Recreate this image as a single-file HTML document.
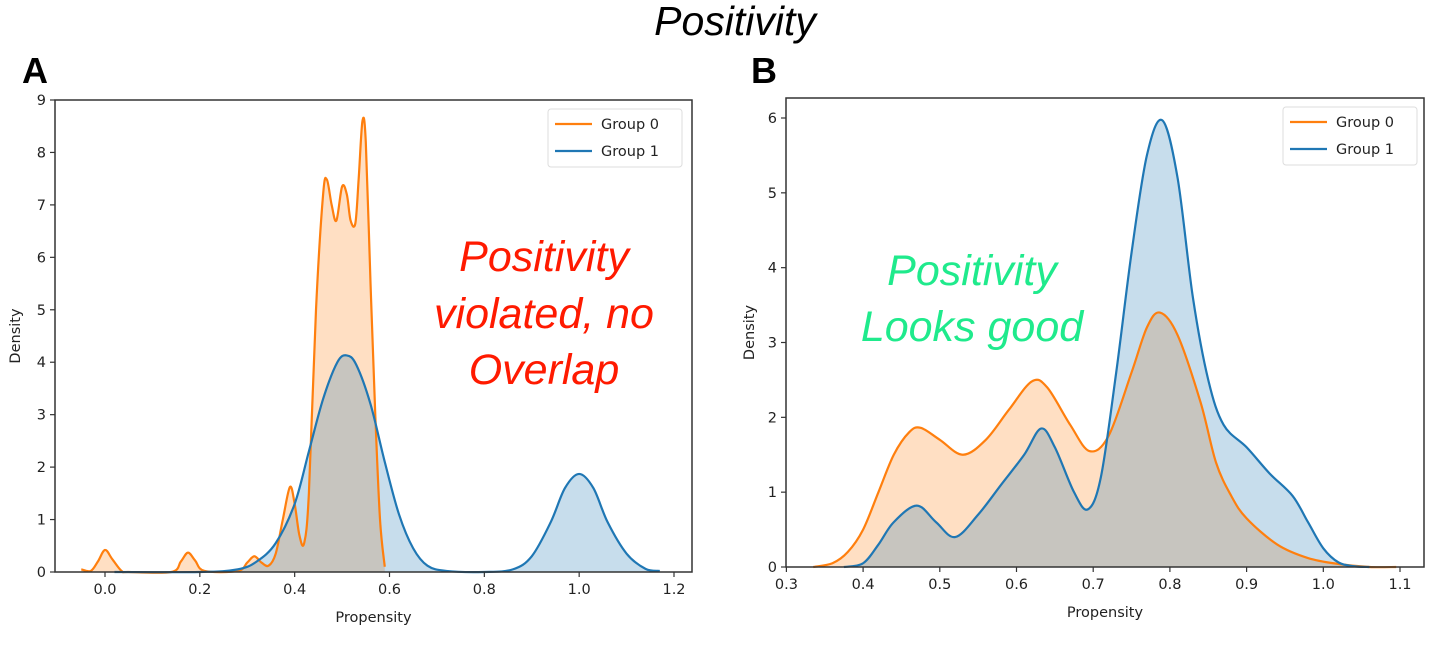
<!DOCTYPE html>
<html><head><meta charset="utf-8"><style>
html,body{margin:0;padding:0;background:#fff;}
svg{display:block;font-family:"DejaVu Sans","Liberation Sans",sans-serif;}
</style></head><body>
<svg id="svg" width="1456" height="654" viewBox="0 0 1456 654" xmlns="http://www.w3.org/2000/svg">
<text x="735" y="35" text-anchor="middle" font-family="Liberation Sans, sans-serif" font-style="italic" font-size="41" fill="#000">Positivity</text>
<text x="22" y="83" font-family="Liberation Sans, sans-serif" font-weight="bold" font-size="36" fill="#000">A</text>
<text x="751" y="83" font-family="Liberation Sans, sans-serif" font-weight="bold" font-size="36" fill="#000">B</text>
<g id="chartA"></g>
<g id="chartB"></g>
<g font-family="Liberation Sans, sans-serif" font-style="italic" font-size="43" fill="#ff1a00" text-anchor="middle">
<text x="544" y="271">Positivity</text><text x="544" y="328">violated, no</text><text x="544" y="384">Overlap</text></g>
<g font-family="Liberation Sans, sans-serif" font-style="italic" font-size="43" fill="#1fea8c" text-anchor="middle">
<text x="972" y="285">Positivity</text><text x="972" y="341">Looks good</text></g>
</svg>
<script>
// Panel A data
const aG0x=[-0.05,-0.03,-0.015,0,0.015,0.035,0.05,0.14,0.16,0.175,0.19,0.21,0.28,0.3,0.315,0.33,0.345,0.36,0.375,0.39,0.4,0.41,0.42,0.43,0.445,0.46,0.468,0.478,0.488,0.5,0.51,0.518,0.528,0.535,0.543,0.55,0.56,0.57,0.58,0.59];
const aG0y=[0.05,0.02,0.2,0.42,0.25,0.02,0,0,0.2,0.37,0.22,0.02,0.02,0.18,0.3,0.18,0.12,0.35,1.0,1.62,1.3,0.7,0.55,1.5,5.0,7.2,7.48,7.0,6.7,7.35,7.2,6.7,6.65,7.5,8.6,8.2,5.5,3.0,1.0,0.1];
const aG1x=[0.02,0.2,0.28,0.32,0.36,0.4,0.43,0.46,0.49,0.51,0.53,0.56,0.59,0.62,0.65,0.68,0.72,0.8,0.86,0.9,0.94,0.97,1.0,1.03,1.06,1.1,1.14,1.17];
const aG1y=[0,0,0.05,0.2,0.55,1.3,2.3,3.3,4.0,4.13,3.95,3.2,2.1,1.1,0.45,0.12,0.02,0,0.05,0.3,0.95,1.6,1.87,1.6,0.95,0.35,0.06,0.02];
const aXTicks=["0.0","0.2","0.4","0.6","0.8","1.0","1.2"];
const aYTicks=[0,1,2,3,4,5,6,7,8,9];
// Panel B data
const bG0x=[0.335,0.36,0.38,0.4,0.42,0.44,0.46,0.475,0.5,0.53,0.56,0.59,0.62,0.64,0.67,0.695,0.72,0.75,0.77,0.787,0.81,0.84,0.86,0.88,0.9,0.94,0.98,1.02,1.06,1.095];
const bG0y=[0,0.05,0.2,0.5,1.0,1.5,1.8,1.86,1.7,1.5,1.7,2.1,2.48,2.4,1.9,1.55,1.75,2.6,3.2,3.4,3.1,2.2,1.4,0.95,0.65,0.3,0.12,0.04,0,0];
const bG1x=[0.375,0.4,0.42,0.44,0.47,0.495,0.52,0.55,0.58,0.61,0.632,0.65,0.675,0.693,0.71,0.73,0.75,0.77,0.79,0.81,0.83,0.85,0.87,0.9,0.93,0.96,0.98,1.0,1.02,1.04,1.06];
const bG1y=[0,0.05,0.3,0.6,0.82,0.6,0.4,0.7,1.1,1.5,1.85,1.6,1.0,0.77,1.2,2.6,4.2,5.5,5.97,5.2,3.6,2.5,1.9,1.6,1.25,0.95,0.6,0.25,0.06,0.01,0];
const bXTicks=["0.3","0.4","0.5","0.6","0.7","0.8","0.9","1.0","1.1"];
const bYTicks=[0,1,2,3,4,5,6];
const legendLabels=["Group 0","Group 1"];

const NS="http://www.w3.org/2000/svg";
function mk(parent,tag,attrs,text){const e=document.createElementNS(NS,tag);for(const k in attrs)e.setAttribute(k,attrs[k]);if(text!==undefined)e.textContent=text;parent.appendChild(e);return e;}
function smooth(pts){let d="M"+pts[0][0]+","+pts[0][1];for(let i=0;i<pts.length-1;i++){const p0=pts[Math.max(0,i-1)],p1=pts[i],p2=pts[i+1],p3=pts[Math.min(pts.length-1,i+2)];const c1=[p1[0]+(p2[0]-p0[0])/6,p1[1]+(p2[1]-p0[1])/6],c2=[p2[0]-(p3[0]-p1[0])/6,p2[1]-(p3[1]-p1[1])/6];d+=" C"+c1[0]+","+c1[1]+" "+c2[0]+","+c2[1]+" "+p2[0]+","+p2[1];}return d;}
function chart(g,cfg){
  const sx=v=>cfg.x0px+(v-cfg.x0)*(cfg.x1px-cfg.x0px)/(cfg.x1-cfg.x0);
  const sy=v=>cfg.y0px+(v-cfg.y0)*(cfg.y1px-cfg.y0px)/(cfg.y1-cfg.y0);
  const series=[[cfg.g0x,cfg.g0y,"#ff7f0e"],[cfg.g1x,cfg.g1y,"#1f77b4"]];
  series.forEach((s,i)=>{
    const pts=s[0].map((x,j)=>[sx(x),Math.min(sy(s[1][j]),sy(0))]);
    const line=smooth(pts);
    const f=mk(g,"path",{d:line+" L"+pts[pts.length-1][0]+","+sy(0)+" L"+pts[0][0]+","+sy(0)+" Z",fill:s[2],"fill-opacity":"0.25",stroke:"none"});
    
    
  });
  series.forEach((s,i)=>{
    const pts=s[0].map((x,j)=>[sx(x),Math.min(sy(s[1][j]),sy(0))]);
    const l=mk(g,"path",{d:smooth(pts),fill:"none",stroke:s[2],"stroke-width":"2.2"});
    
    
  });
  const box=mk(g,"rect",{x:cfg.L,y:cfg.T,width:cfg.R-cfg.L,height:cfg.B-cfg.T,fill:"none",stroke:"#333","stroke-width":"1.5"});
  
  
  cfg.xt.forEach(t=>{const x=sx(parseFloat(t));
    mk(g,"line",{x1:x,x2:x,y1:cfg.B,y2:cfg.B+5,stroke:"#333","stroke-width":"1.2"});
    const tx=mk(g,"text",{x:x,y:cfg.B+22,"text-anchor":"middle","font-size":"14.5",fill:"#222"},t);
    
    
  });
  cfg.yt.forEach(t=>{const y=sy(t);
    mk(g,"line",{x1:cfg.L-5,x2:cfg.L,y1:y,y2:y,stroke:"#333","stroke-width":"1.2"});
    const ty=mk(g,"text",{x:cfg.L-9,y:y+5,"text-anchor":"end","font-size":"14.5",fill:"#222"},String(t));
    
    
  });
  const xl=mk(g,"text",{x:(cfg.L+cfg.R)/2,y:cfg.B+50,"text-anchor":"middle","font-size":"14.5",fill:"#222"},"Propensity");
  
  
  const yl=mk(g,"text",{x:0,y:0,transform:"translate("+cfg.ylx+","+(cfg.T+cfg.B)/2+") rotate(-90)","text-anchor":"middle","font-size":"14.5",fill:"#222"},"Density");
  
  
  const lg=mk(g,"g",{});
  
  
  mk(lg,"rect",{x:cfg.lx,y:cfg.ly,width:134,height:58,rx:3,fill:"#fff","fill-opacity":"0.85",stroke:"#ddd"});
  legendLabels.forEach((lab,i)=>{
    const e=mk(lg,"g",{});
    
    
    const y=cfg.ly+15+i*27;
    mk(e,"line",{x1:cfg.lx+7,x2:cfg.lx+44,y1:y,y2:y,stroke:series[i][2],"stroke-width":"2.2"});
    mk(e,"text",{x:cfg.lx+53,y:y+5,"font-size":"14.5",fill:"#222"},lab);
  });
}
chart(document.getElementById("chartA"),{g0x:aG0x,g0y:aG0y,g1x:aG1x,g1y:aG1y,xt:aXTicks,yt:aYTicks,
  x0:0,x1:1.2,x0px:105,x1px:674,y0:0,y1:9,y0px:572,y1px:100,L:55,R:692,T:100,B:572,ylx:20,lx:548,ly:109});
chart(document.getElementById("chartB"),{g0x:bG0x,g0y:bG0y,g1x:bG1x,g1y:bG1y,xt:bXTicks,yt:bYTicks,
  x0:0.3,x1:1.1,x0px:786.4,x1px:1400,y0:0,y1:6,y0px:567,y1px:118,L:786,R:1424,T:98,B:567,ylx:754,lx:1283,ly:107});
</script>
</body></html>
